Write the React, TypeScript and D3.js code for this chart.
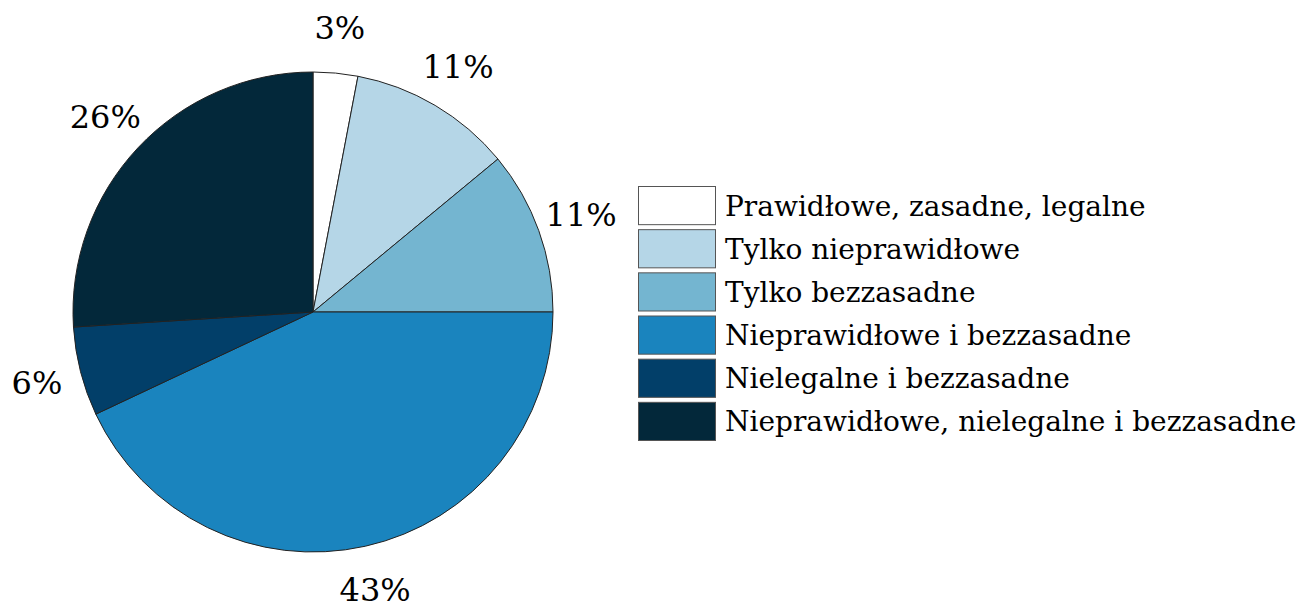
import React from "react";
import * as d3 from "d3";

const categories = [
  "Prawidłowe, zasadne, legalne",
  "Tylko nieprawidłowe",
  "Tylko bezzasadne",
  "Nieprawidłowe i bezzasadne",
  "Nielegalne i bezzasadne",
  "Nieprawidłowe, nielegalne i bezzasadne",
];
const values = [3, 11, 11, 43, 6, 26];
const colors = ["#ffffff", "#b5d6e7", "#74b5d0", "#1a84be", "#023f69", "#03283a"];

const W = 1309;
const H = 609;
const cx = 313;
const cy = 312;
const R = 240;
const labelR = 285;
const font = "'DejaVu Serif', serif";

export default function App() {
  const pie = d3.pie<number>().sort(null).value((d) => d)(values);
  const arc = d3.arc<d3.PieArcDatum<number>>().innerRadius(0).outerRadius(R);
  const labelArc = d3
    .arc<d3.PieArcDatum<number>>()
    .innerRadius(labelR)
    .outerRadius(labelR);

  const legendY = d3
    .scaleBand<number>()
    .domain(d3.range(categories.length))
    .range([186, 440])
    .paddingInner(0.116)
    .paddingOuter(0);

  return (
    <svg
      width={W}
      height={H}
      style={{ position: "absolute", left: 0, top: 0, background: "#fff" }}
    >
      <g transform={`translate(${cx},${cy})`}>
        {pie.map((p, i) => (
          <path
            key={i}
            d={arc(p) || ""}
            fill={colors[i]}
            stroke="#222"
            strokeWidth={1}
          />
        ))}
        {pie.map((p, i) => {
          const [x, y] = labelArc.centroid(p);
          return (
            <text
              key={"l" + i}
              x={x}
              y={y}
              textAnchor="middle"
              dominantBaseline="central"
              fontFamily={font}
              fontSize={32}
              fill="#000"
            >
              {values[i]}%
            </text>
          );
        })}
      </g>
      <g>
        {categories.map((c, i) => {
          const y = legendY(i)!;
          const h = legendY.bandwidth();
          return (
            <g key={c}>
              <rect
                x={638.5}
                y={y + 0.5}
                width={77}
                height={h}
                fill={colors[i]}
                stroke="#555"
                strokeWidth={1}
              />
              <text
                x={725}
                y={y + h / 2 + 1}
                dominantBaseline="central"
                fontFamily={font}
                fontSize={28}
                fill="#000"
              >
                {c}
              </text>
            </g>
          );
        })}
      </g>
    </svg>
  );
}
